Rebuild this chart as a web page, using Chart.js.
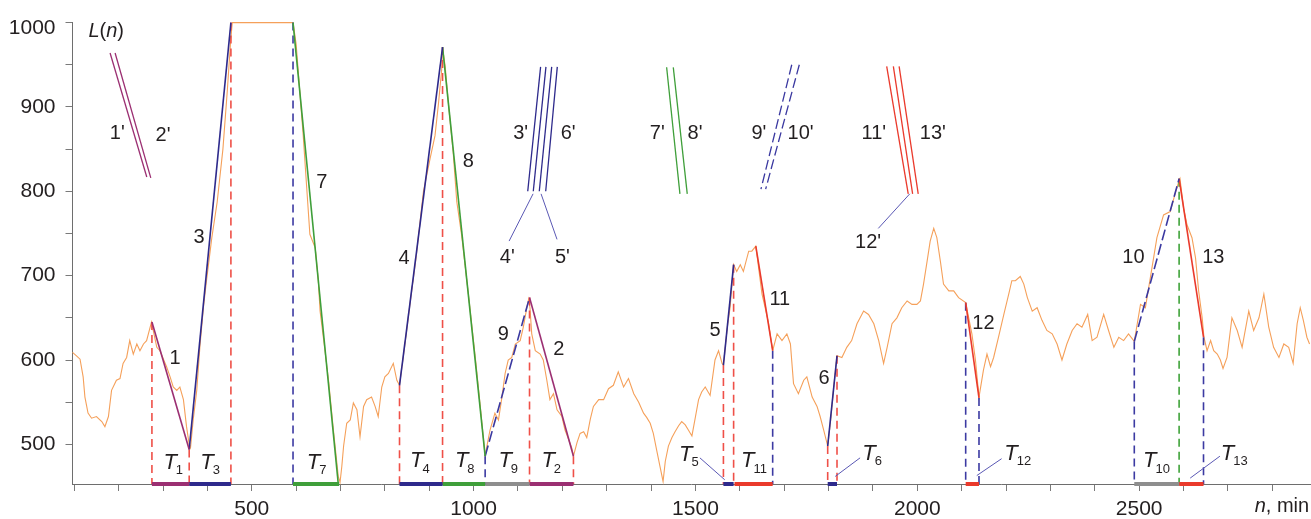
<!DOCTYPE html>
<html>
<head>
<meta charset="utf-8">
<style>
  html, body { margin: 0; padding: 0; background: #fff; }
  #wrap { width: 1311px; height: 519px; }
</style>
<script src="https://cdn.jsdelivr.net/npm/chart.js@4.4.0/dist/chart.umd.min.js"></script>
</head>
<body>
<div id="wrap"><canvas id="chart" width="1311" height="519"></canvas></div>
<script>
// ---- data (n in min, L(n)) ----
const timeMin = [96,105,113,120,124,131,139,150,162,169,177,184,195,203,210,218,225,233,241,248,256,263,274,286,293,308,316,323,331,338,346,353,359,362,368,376,383,391,398,410,422,435,445,452,456,593,600,608,616,624,631,643,650,654,663,673,684,695,699,703,707,714,722,729,737,744,752,759,770,778,785,793,800,808,819,827,833,845,857,870,887,902,913,921,928,930,936,943,954,962,973,990,1005,1015,1026,1030,1037,1048,1056,1063,1071,1078,1086,1094,1105,1112,1120,1124,1127,1131,1139,1150,1157,1165,1172,1180,1188,1199,1206,1214,1221,1225,1233,1240,1248,1255,1263,1270,1282,1293,1304,1315,1326,1338,1349,1361,1372,1383,1390,1398,1405,1413,1420,1427,1432,1439,1447,1454,1462,1469,1477,1484,1492,1499,1507,1514,1522,1533,1544,1552,1560,1563,1572,1578,1586,1593,1601,1608,1620,1627,1636,1650,1657,1665,1674,1684,1695,1706,1714,1721,1732,1744,1751,1763,1774,1781,1789,1798,1805,1812,1819,1830,1841,1852,1864,1879,1890,1902,1913,1924,1932,1943,1954,1965,1977,1988,1999,2007,2014,2022,2029,2037,2044,2052,2059,2071,2082,2093,2109,2123,2131,2139,2149,2157,2165,2172,2183,2195,2206,2213,2221,2232,2240,2248,2259,2270,2281,2292,2304,2315,2326,2337,2349,2360,2371,2384,2394,2405,2420,2431,2443,2454,2465,2476,2489,2503,2514,2525,2540,2555,2570,2582,2589,2592,2600,2608,2619,2627,2634,2642,2646,2653,2661,2668,2676,2683,2689,2698,2709,2721,2732,2747,2758,2770,2781,2792,2803,2815,2826,2837,2847,2856,2863,2870,2878,2884];
const loadL = [609,605,601,580,556,537,531,533,527,521,533,564,576,578,596,603,623,607,619,611,619,623,645,615,611,592,580,568,564,568,553,521,500,496,529,564,615,662,694,745,787,850,920,975,1000,1000,975,920,866,803,749,733,694,658,620,576,517,462,455,474,498,525,529,549,541,509,545,553,556,545,533,568,580,584,596,576,570,618,668,720,800,839,866,905,944,970,948,905,846,788,748,670,597,545,486,498,517,537,529,553,584,600,603,619,623,639,662,672,662,631,611,607,600,576,553,560,541,533,517,506,496,486,502,513,515,508,530,545,553,553,566,570,586,568,578,560,550,537,532,525,513,492,474,456,480,498,508,515,522,527,523,517,510,530,553,562,568,558,600,611,596,594,640,662,713,705,713,705,729,729,735,678,662,643,611,631,623,631,619,572,560,576,580,556,545,533,517,498,530,570,605,603,615,623,643,658,654,643,623,596,615,643,650,662,670,666,666,670,690,717,741,756,745,717,690,682,682,674,668,631,600,556,588,607,592,603,627,654,678,694,694,699,690,674,658,662,647,635,631,619,600,619,635,643,639,654,623,627,654,635,615,627,623,631,622,666,662,697,745,772,776,799,811,815,780,760,745,721,682,650,627,611,623,611,607,600,590,603,650,635,615,658,635,650,678,639,615,603,619,615,596,643,662,647,627,619];

// trend lines 1..13
const trendIds = ['1','3','7','4','8','9','2','5','11','6','12','10','13'];
const trendX0 = [275,359,593,833,930,1026,1126,1563,1636,1798,2109,2489,2590];
const trendY0 = [645,494,1000,570,971,486,674,594,735,498,668,622,815];
const trendX1 = [359,453,695,930,1026,1126,1225,1586,1674,1819,2139,2590,2645];
const trendY1 = [494,1000,453,971,486,674,486,713,611,605,555,815,627];

// intervals T_i on the time axis
const periodIds = ['1','3','7','4','8','9','2','5','11','6','12','10','13'];
const periodStart = [275,359,593,833,930,1026,1126,1563,1588,1798,2109,2489,2590];
const periodEnd = [359,453,697,930,1026,1126,1225,1586,1674,1819,2139,2590,2645];

// dashed drop lines
const markX = [275,359,453,593,833,930,1026,1126,1225,1563,1586,1674,1798,1819,2109,2139,2489,2590,2645];
const markTop = [645,494,1000,1000,570,971,486,674,486,594,713,611,498,605,668,555,622,815,627];
const markKind = ['red','red','red','blue','red','red','blue','red','red','red','red','blue','red','red','blue','blue','blue','green','blue'];

// key strokes 1'..13'
const primeKind = ['purple','purple','blue','blue','blue','blue','green','green','blueDash','blueDash','red','red','red'];
const primeX0 = [180.7,192,1151,1163,1176,1188.6,1435,1450,1717,1734,1931,1946,1959];
const primeY0 = [964,964,947.5,947.5,947.5,947.5,947,947,950,950,948,948,948];
const primeX1 = [263.4,272.4,1122,1134.5,1148,1162.5,1465,1481.5,1647.6,1658.2,1979.5,1989.4,2002];
const primeY1 = [817,816,800,800,800,800,797,797,802.5,802.5,797,797,797];

// thin pointer lines (4', 5', 12', T5, T6, T12, T13)
const leaderX0 = [1134,1152,1983,1510,1815,2134,2615];
const leaderY0 = [797,797,797,484,462,463,460];
const leaderX1 = [1080,1188,1912,1566,1871,2190,2682];
const leaderY1 = [741,743,756,458,484,483,486];

// text
const numLabels = ['1','3','7','4','8','9','2','5','11','6','12','10','13'];
const numLabelX = [327,381,658,843,988,1067,1192,1544,1690,1790,2149,2487,2667];
const numLabelY = [602,745,811,720,835,630,612,635,672,578,643,721,721];
const primeLabels = ["1'","2'","3'","6'","4'","5'","7'","8'","9'","10'","11'","13'","12'"];
const primeLabelX = [197,300,1106,1213,1076,1200,1414,1499,1643,1737,1902,2035,1889];
const primeLabelY = [868,866,868,868,721,721,868,868,868,868,868,868,739];
const tLabelIds = ['1','3','7','4','8','9','2','5','11','6','12','10','13'];
const tLabelX = [316,399,639,872,973,1071,1168,1478,1618,1891,2211,2524,2699];
const tLabelY = [478,478,478,480,480,480,480,488,480,489,489,480,489];

const xTicks = [100,200,300,400,500,600,700,800,900,1000,1100,1200,1300,1400,1500,1600,1700,1800,1900,2000,2100,2200,2300,2400,2500,2600,2700,2800];
const yTicks = [500,550,600,650,700,750,800,850,900,950,1000];
const yTopLabel = 1000;

// ---- styles ----
const colors = {
  purple: '#9b2f72',
  blue: '#2e2a8c',
  blueDash: '#3a38a0',
  green: '#3f9f3a',
  red: '#ea3a2c',
  grey: '#8e8e8e',
  orange: '#f5a05a',
  leader: '#5a58b4'
};
const trendKind = {'1':'purple','2':'purple','3':'blue','4':'blue','5':'blue','6':'blue','7':'green','8':'green','9':'blueDash','10':'blueDash','11':'red','12':'red','13':'red'};
const markColors = { red: '#ef5048', blue: '#3c3aa2', green: '#3fa33a' };
const FONT = '"Liberation Sans", Arial, sans-serif';
const TXT = '#231f20';

function seg(x0, y0, x1, y1, color, width, dash, order) {
  return {
    data: [{x: x0, y: y0}, {x: x1, y: y1}],
    borderColor: color,
    borderWidth: width,
    borderDash: dash || [],
    pointRadius: 0,
    fill: false,
    clip: false,
    order: order
  };
}

var datasets = [];

// main series
datasets.push({
  data: timeMin.map(function (t, i) { return {x: t, y: loadL[i]}; }),
  borderColor: colors.orange,
  borderWidth: 1.1,
  pointRadius: 0,
  fill: false,
  clip: false,
  order: 9
});

for (let i = 0; i < markX.length; i++) {
  datasets.push(seg(markX[i], markTop[i], markX[i], 453, markColors[markKind[i]], 1.6, [8, 5], 6));
}

for (let i = 0; i < trendIds.length; i++) {
  var k = trendKind[trendIds[i]];
  datasets.push(seg(trendX0[i], trendY0[i], trendX1[i], trendY1[i], colors[k], 1.6, k === 'blueDash' ? [11, 4] : [], 4));
}

for (let i = 0; i < primeKind.length; i++) {
  var pk = primeKind[i];
  datasets.push(seg(primeX0[i], primeY0[i], primeX1[i], primeY1[i], colors[pk], 1.3, pk === 'blueDash' ? [10, 4] : [], 4));
}

for (let i = 0; i < leaderX0.length; i++) {
  datasets.push(seg(leaderX0[i], leaderY0[i], leaderX1[i], leaderY1[i], colors.leader, 1, [], 4));
}

for (let i = 0; i < periodIds.length; i++) {
  var id = periodIds[i];
  var pc = (id === '9' || id === '10') ? colors.grey : colors[trendKind[id]];
  if (pc === colors.blueDash) pc = colors.blue;
  datasets.push(seg(periodStart[i], 453, periodEnd[i], 453, pc, 4, [], 1));
}

// mixed italic / upright text
function richText(ctx, parts, x, y, align) {
  var total = 0;
  parts.forEach(function (p) { ctx.font = p[1]; total += ctx.measureText(p[0]).width; });
  var cx = align === 'right' ? x - total : (align === 'center' ? x - total / 2 : x);
  ctx.textAlign = 'left';
  parts.forEach(function (p) {
    ctx.font = p[1];
    ctx.fillText(p[0], cx, y);
    cx += ctx.measureText(p[0]).width;
  });
}

const textPlugin = {
  id: 'textLabels',
  afterDatasetsDraw: function (chart) {
    var ctx = chart.ctx, xs = chart.scales.x, ys = chart.scales.y;
    var px = function (v) { return xs.getPixelForValue(v); };
    var py = function (v) { return ys.getPixelForValue(v); };
    ctx.save();
    ctx.fillStyle = TXT;
    ctx.textBaseline = 'middle';
    ctx.textAlign = 'center';
    ctx.font = '20px ' + FONT;
    for (let i = 0; i < numLabels.length; i++) {
      ctx.fillText(numLabels[i], px(numLabelX[i]), py(numLabelY[i]));
    }
    for (let i = 0; i < primeLabels.length; i++) {
      ctx.fillText(primeLabels[i], px(primeLabelX[i]), py(primeLabelY[i]));
    }
    for (let i = 0; i < tLabelIds.length; i++) {
      var x = px(tLabelX[i]), y = py(tLabelY[i]);
      ctx.font = 'italic 22px ' + FONT;
      ctx.textAlign = 'center';
      ctx.fillText('T', x, y);
      var w = ctx.measureText('T').width;
      ctx.font = '13px ' + FONT;
      ctx.textAlign = 'left';
      ctx.fillText(tLabelIds[i], x + w / 2 - 1, y + 8);
    }
    // top tick label sits a little below its tick in the original
    ctx.font = '21px ' + FONT;
    ctx.textAlign = 'right';
    ctx.fillText(String(yTopLabel), ys.right - 17, py(yTopLabel) + 6);

    var it = 'italic 20px ' + FONT, up = '20px ' + FONT;
    richText(ctx, [['L', it], ['(', up], ['n', it], [')', up]], px(172), py(990), 'center');
    ctx.textBaseline = 'alphabetic';
    richText(ctx, [['n', it], [', min', up]], px(2883), py(420), 'right');
    ctx.restore();
  }
};

new Chart(document.getElementById('chart'), {
  type: 'line',
  data: { datasets: datasets },
  options: {
    responsive: false,
    animation: false,
    events: [],
    layout: { padding: { top: 19, right: 1, left: 0, bottom: 0 } },
    plugins: { legend: { display: false }, tooltip: { enabled: false } },
    elements: { line: { tension: 0 } },
    scales: {
      x: {
        type: 'linear',
        min: 96,
        max: 2885,
        afterFit: function (s) { s.height = 35; },
        afterBuildTicks: function (s) { s.ticks = xTicks.map(function (v) { return {value: v}; }); },
        ticks: {
          autoSkip: false,
          maxRotation: 0,
          padding: 6,
          color: TXT,
          font: { family: FONT, size: 21 },
          callback: function (v) { return v % 500 === 0 ? String(v) : ''; }
        },
        grid: { drawOnChartArea: false, tickLength: 7, tickColor: '#7a7a7a', tickWidth: 1 },
        border: { color: '#6e6e6e', width: 1 }
      },
      y: {
        min: 453,
        max: 1000,
        afterFit: function (s) { s.width = 72.5; },
        afterBuildTicks: function (s) { s.ticks = yTicks.map(function (v) { return {value: v}; }); },
        ticks: {
          padding: 10,
          color: TXT,
          font: { family: FONT, size: 21 },
          callback: function (v) { return (v % 100 === 0 && v !== yTopLabel) ? String(v) : ''; }
        },
        grid: { drawOnChartArea: false, tickLength: 7, tickColor: '#7a7a7a', tickWidth: 1 },
        border: { color: '#6e6e6e', width: 1 }
      }
    }
  },
  plugins: [textPlugin]
});
</script>
</body>
</html>
